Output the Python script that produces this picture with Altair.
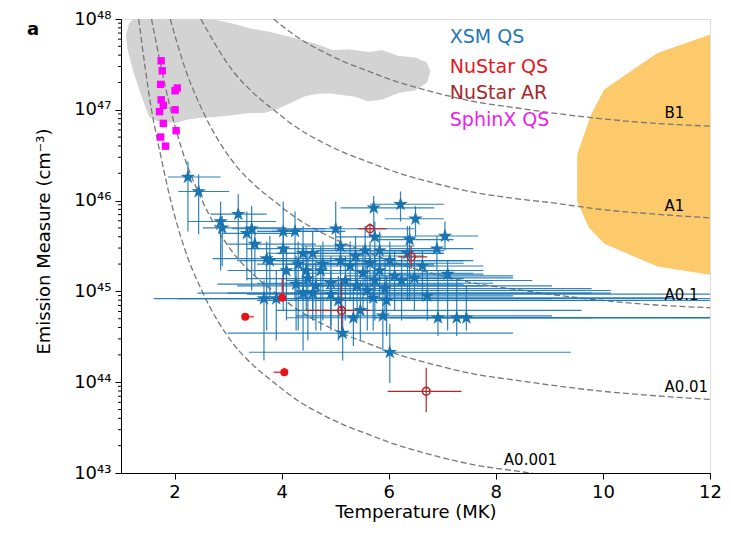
import altair as alt
import pandas as pd
import numpy as np

# ---------------- data ----------------
# XSM QS (stars): temperature (MK), log10 EM, error-bar extents
xsm_T = [2.25, 2.45, 2.86, 2.89, 3.19, 3.35, 3.44, 3.50, 3.72, 3.78,
         4.03, 4.25, 4.03, 4.09, 4.31, 4.40, 4.58, 4.49, 4.77, 4.73,
         5.01, 5.10, 3.67, 3.90, 4.40, 4.58, 4.92, 5.06, 5.14, 5.72,
         6.22, 6.50, 5.74, 6.39, 7.05, 6.90, 6.35, 7.10, 6.72, 6.92,
         7.27, 7.45, 6.02, 5.89, 5.34, 5.47, 5.56, 5.65, 5.52, 5.74,
         5.83, 5.41, 5.60, 5.93, 5.28, 5.38, 5.83, 6.02, 6.11, 6.24,
         6.48, 5.19, 4.92, 4.64, 4.27, 4.46, 5.71, 5.96, 5.10, 6.63]
xsm_logEM = [46.26, 46.10, 45.77, 45.70, 45.85, 45.64, 45.69, 45.52, 45.36, 45.34,
             45.66, 45.66, 45.47, 45.23, 45.30, 45.42, 45.42, 45.14, 45.30, 45.23,
             45.69, 45.34, 44.92, 44.92, 44.98, 44.98, 44.97, 44.90, 44.54, 45.92,
             45.96, 45.80, 45.60, 45.57, 45.61, 45.47, 45.42, 45.19, 44.95, 44.71,
             44.71, 44.71, 44.33, 44.73, 44.71, 44.79, 45.45, 45.31, 45.20, 45.12,
             45.23, 45.06, 45.01, 45.03, 45.28, 45.39, 45.45, 45.34, 45.17, 45.12,
             45.15, 45.12, 45.09, 45.06, 45.08, 45.23, 44.93, 44.90, 45.50, 45.28]
xsm_T_lo = [1.88, 2.07, 2.25, 2.53, 2.67, 2.89, 3.08, 2.99, 2.71, 3.17,
            3.54, 3.81, 3.35, 2.99, 3.54, 3.72, 3.90, 3.35, 4.09, 3.54,
            4.27, 3.90, 1.61, 2.07, 2.43, 2.99, 3.35, 3.54, 2.99, 5.10,
            5.65, 5.93, 5.01, 5.74, 6.48, 6.02, 5.74, 6.20, 5.93, 5.74,
            6.02, 6.29, 3.39, 4.27, 4.09, 3.90, 4.64, 4.82, 4.46, 4.64,
            5.01, 4.27, 4.27, 4.82, 4.46, 4.64, 5.10, 5.19, 5.19, 5.38,
            5.56, 4.09, 3.54, 3.17, 2.80, 3.54, 4.27, 4.64, 4.36, 5.74]
xsm_T_hi = [2.86, 3.02, 3.90, 4.09, 3.72, 4.27, 4.82, 4.64, 6.11, 5.74,
            4.82, 5.19, 5.38, 5.93, 6.48, 6.29, 7.03, 7.40, 6.85, 7.21,
            6.48, 7.58, 9.05, 12.0, 10.15, 9.79, 12.0, 10.7, 8.32, 6.85,
            7.03, 7.03, 6.48, 7.21, 7.67, 7.58, 7.03, 7.77, 8.32, 12.0,
            12.0, 12.0, 9.40, 9.05, 9.79, 9.60, 7.03, 7.40, 7.58, 7.95,
            7.77, 9.05, 10.15, 9.79, 6.85, 6.66, 6.85, 7.40, 8.32, 8.68,
            8.32, 7.58, 7.95, 7.77, 7.40, 7.03, 11.26, 12.0, 6.48, 7.77]
xsm_logEM_lo = [45.66, 45.63, 45.23, 45.28, 45.37, 45.12, 45.01, 45.17, 44.57, 44.90,
                45.01, 44.90, 44.79, 44.68, 44.57, 44.90, 44.79, 44.46, 44.68, 44.57,
                45.45, 44.79, 44.24, 44.46, 44.35, 44.68, 44.57, 44.46, 44.24, 45.72,
                45.77, 45.61, 45.01, 44.90, 45.45, 45.23, 44.90, 44.57, 44.68, 44.51,
                44.51, 44.57, 43.99, 44.35, 44.40, 44.46, 45.01, 44.90, 44.79, 44.68,
                44.90, 44.68, 44.57, 44.68, 44.90, 45.01, 45.12, 44.90, 44.79, 44.68,
                44.79, 44.68, 44.62, 44.57, 44.57, 44.79, 44.57, 44.51, 45.17, 44.90]
xsm_logEM_hi = [46.43, 46.29, 45.99, 45.83, 46.07, 45.88, 45.94, 45.72, 45.55, 45.61,
                45.99, 45.88, 45.66, 45.50, 45.55, 45.72, 45.66, 45.45, 45.55, 45.50,
                45.99, 45.61, 45.12, 45.23, 45.34, 45.28, 45.23, 45.17, 44.84, 46.05,
                46.10, 45.94, 45.77, 45.72, 45.77, 45.61, 45.72, 45.34, 45.23, 45.23,
                45.12, 45.06, 44.64, 45.01, 45.06, 45.12, 45.72, 45.55, 45.50, 45.39,
                45.50, 45.34, 45.28, 45.34, 45.55, 45.61, 45.66, 45.55, 45.45, 45.39,
                45.39, 45.39, 45.39, 45.34, 45.39, 45.50, 45.23, 45.17, 45.72, 45.45]

# NuStar QS (filled red circles)
nqs_T = [4.01, 3.32, 4.05]
nqs_logEM = [44.93, 44.72, 44.11]
nqs_T_lo = [3.98, 3.30, 3.85]
nqs_T_hi = [4.04, 3.48, 4.07]
nqs_logEM_lo = [44.90, 44.70, 44.09]
nqs_logEM_hi = [45.15, 44.75, 44.16]

# NuStar AR (open dark-red circles)
nar_T = [5.65, 6.42, 5.12, 6.70]
nar_logEM = [45.69, 45.38, 44.79, 43.90]
nar_T_lo = [5.43, 6.17, 4.45, 5.98]
nar_T_hi = [5.96, 6.72, 5.65, 7.36]
nar_logEM_lo = [45.60, 45.25, 44.54, 43.67]
nar_logEM_hi = [45.75, 45.50, 45.12, 44.16]

# SphinX QS (magenta squares)
sph_T = [1.75, 1.77, 1.74, 2.01, 2.05, 1.75, 1.79, 1.72, 2.01, 1.79, 2.03, 1.74, 1.83]
sph_logEM = [47.54, 47.43, 47.28, 47.21, 47.24, 47.11, 47.05, 46.98, 47.00, 46.85, 46.77, 46.70, 46.60]

# GOES-class curves (dashed)
curves = {
    "A0.001": ([1.33, 1.57, 1.74, 1.90, 2.20, 2.50, 3.10, 3.50, 3.85, 4.27, 4.77, 5.20, 5.60, 6.00, 6.80, 7.60, 8.40, 9.00],
               [48.0, 47.0, 46.5, 46.07, 45.45, 45.02, 44.42, 44.17, 44.0, 43.81, 43.64, 43.52, 43.43, 43.34, 43.2, 43.09, 43.02, 42.97]),
    "A0.01": ([1.57, 1.74, 1.90, 2.20, 2.50, 3.10, 3.50, 3.85, 4.27, 4.77, 5.20, 5.60, 6.00, 6.80, 7.60, 8.40, 9.00, 10.0, 11.0, 12.0],
              [48.0, 47.5, 47.07, 46.45, 46.02, 45.42, 45.17, 45.0, 44.81, 44.64, 44.52, 44.43, 44.34, 44.2, 44.09, 44.02, 43.97, 43.9, 43.85, 43.81]),
    "A0.1": ([1.92, 2.20, 2.50, 3.10, 3.50, 3.85, 4.27, 4.77, 5.20, 5.60, 6.00, 6.80, 7.60, 8.40, 9.00, 10.0, 11.0, 12.0],
             [48.0, 47.45, 47.02, 46.42, 46.17, 46.0, 45.81, 45.64, 45.52, 45.43, 45.34, 45.2, 45.09, 45.02, 44.97, 44.9, 44.85, 44.82]),
    "A1": ([2.49, 3.10, 3.50, 3.85, 4.27, 4.77, 5.20, 5.60, 6.00, 6.80, 7.60, 8.40, 9.00, 10.0, 11.0, 12.0],
           [48.0, 47.42, 47.17, 47.0, 46.81, 46.64, 46.52, 46.43, 46.34, 46.2, 46.09, 46.02, 45.98, 45.9, 45.85, 45.81]),
    "B1": ([3.85, 4.27, 4.77, 5.20, 5.60, 6.00, 6.80, 7.60, 8.40, 9.00, 10.0, 11.0, 12.0],
           [48.0, 47.81, 47.64, 47.52, 47.43, 47.34, 47.2, 47.09, 47.02, 46.97, 46.9, 46.85, 46.82]),
}
curve_label_names = ["B1", "A1", "A0.1", "A0.01", "A0.001"]
curve_label_T = [11.15, 11.15, 11.15, 11.15, 8.15]
curve_label_logEM = [46.97, 45.94, 44.96, 43.95, 43.14]

# grey region (outline)
grey_T = [1.35, 2.45, 2.49, 2.80, 3.11, 3.41, 3.78, 4.27, 4.64, 4.95, 5.25, 5.62, 5.87, 6.17,
          6.48, 6.69, 6.75, 6.69, 6.48, 6.17, 5.87, 5.62, 5.38, 5.13, 4.88, 4.64, 4.40,
          4.15, 3.90, 3.66, 3.41, 3.11, 2.80, 2.49, 2.25, 2.01, 1.70, 1.55, 1.45, 1.36,
          1.24, 1.15, 1.12, 1.18, 1.27]
grey_logEM = [48.06, 48.06, 47.99, 47.97, 47.93, 47.88, 47.84, 47.77, 47.71, 47.64, 47.65, 47.62,
              47.64, 47.58, 47.56, 47.51, 47.42, 47.31, 47.23, 47.20, 47.13, 47.11, 47.16,
              47.18, 47.20, 47.19, 47.16, 47.09, 47.02, 46.98, 46.98, 46.96, 46.94, 46.93,
              46.91, 46.87, 46.89, 46.93, 47.09, 47.24, 47.46, 47.67, 47.82, 47.95, 47.99]

# orange region (outline)
orange_T = [12.1, 11.99, 11.02, 10.03, 9.79, 9.53, 9.53, 9.75, 10.03, 11.02, 11.99, 12.1]
orange_logEM = [47.82, 47.82, 47.62, 47.22, 46.95, 46.51, 45.99, 45.70, 45.53, 45.28, 45.19, 45.19]

legend_names = ["XSM QS", "NuStar QS", "NuStar AR", "SphinX QS"]
legend_colors = ["#1f77b4", "#e8141c", "#a8262b", "#ee1cee"]
legend_T = [7.14, 7.14, 7.14, 7.14]
legend_logEM = [47.80, 47.47, 47.18, 46.89]

y_major = [1e43, 1e44, 1e45, 1e46, 1e47, 1e48]
y_minor = [m * 10.0 ** e for e in range(43, 48) for m in range(2, 10)]
x_ticks = [2, 4, 6, 8, 10, 12]

# ---------------- build tables ----------------
def em(v):
    return [10.0 ** x for x in v]

xsm = pd.DataFrame({"T": xsm_T, "EM": em(xsm_logEM), "Tlo": xsm_T_lo, "Thi": xsm_T_hi,
                    "EMlo": em(xsm_logEM_lo), "EMhi": em(xsm_logEM_hi)})
nqs = pd.DataFrame({"T": nqs_T, "EM": em(nqs_logEM), "Tlo": nqs_T_lo, "Thi": nqs_T_hi,
                    "EMlo": em(nqs_logEM_lo), "EMhi": em(nqs_logEM_hi)})
nar = pd.DataFrame({"T": nar_T, "EM": em(nar_logEM), "Tlo": nar_T_lo, "Thi": nar_T_hi,
                    "EMlo": em(nar_logEM_lo), "EMhi": em(nar_logEM_hi)})
sph = pd.DataFrame({"T": sph_T, "EM": em(sph_logEM)})
crv = pd.concat([pd.DataFrame({"name": k, "T": v[0], "EM": em(v[1])}) for k, v in curves.items()])
clab = pd.DataFrame({"name": curve_label_names, "T": curve_label_T, "EM": em(curve_label_logEM)})
grey = pd.DataFrame({"i": range(len(grey_T)), "T": grey_T, "EM": em(grey_logEM)})
orng = pd.DataFrame({"i": range(len(orange_T)), "T": orange_T, "EM": em(orange_logEM)})
leg = pd.DataFrame({"name": legend_names, "color": legend_colors, "T": legend_T, "EM": em(legend_logEM)})
minor = pd.DataFrame({"v": y_minor})

FONT = "DejaVu Sans"
xs = alt.Scale(domain=[1, 12], nice=False, zero=False)
ys = alt.Scale(type="log", domain=[1e43, 1e48], nice=False)

sup = {43: "⁴³", 44: "⁴⁴", 45: "⁴⁵", 46: "⁴⁶", 47: "⁴⁷", 48: "⁴⁸"}
expr = "''"
for e in range(43, 49):
    expr = f"round(log(datum.value)/LN10) == {e} ? '10{sup[e]}' : ({expr})"

xaxis = alt.Axis(values=x_ticks, format="d", grid=False, tickSize=6, labelFontSize=18,
                 labelFlush=False, labelColor="black", tickColor="black", domainColor="black",
                 titleFontSize=18, titleFontWeight="normal", titleColor="black", labelPadding=4,
                 titlePadding=2, labelFont=FONT, titleFont=FONT)
yaxis = alt.Axis(values=y_major, labelExpr=expr, grid=False, tickSize=6, labelFontSize=18,
                 labelColor="black", tickColor="black", domainColor="black",
                 titleFontSize=18, titleFontWeight="normal", titleColor="black", labelPadding=4,
                 titleX=-77, titleY=222, titleAngle=-90, titleAlign="center", titleBaseline="middle",
                 labelFont=FONT, titleFont=FONT)

XT = "Temperature (MK)"
YT = "Emission Measure (cm⁻³)"


def X(f="T"):
    return alt.X(f"{f}:Q", scale=xs, axis=xaxis, title=XT)


def Y(f="EM"):
    return alt.Y(f"{f}:Q", scale=ys, axis=yaxis, title=YT)


orange_layer = alt.Chart(orng).mark_line(interpolate="linear-closed", fill="#fcc96b",
                                         stroke="#fcc96b", strokeWidth=1, clip=True).encode(
    x=X(), y=Y(), order="i:Q")
grey_layer = alt.Chart(grey).mark_line(interpolate="linear-closed", fill="#d3d3d3",
                                       stroke="#d3d3d3", strokeWidth=3, strokeJoin="round",
                                       clip=True).encode(
    x=X(), y=Y(), order="i:Q")
curve_layer = alt.Chart(crv).mark_line(color="#777777", strokeWidth=1.3, strokeDash=[6, 3],
                                       interpolate="monotone", clip=True).encode(
    x=X(), y=Y(), detail="name:N")
curve_text = alt.Chart(clab).mark_text(align="left", baseline="middle", fontSize=15,
                                       font=FONT, color="black").encode(
    x=X(), y=Y(), text="name:N")

BLUE = "#1a74b2"
xsm_h = alt.Chart(xsm).mark_rule(color=BLUE, strokeWidth=1.2, opacity=0.9, clip=True).encode(
    x=X("Tlo"), x2="Thi:Q", y=Y())
xsm_v = alt.Chart(xsm).mark_rule(color=BLUE, strokeWidth=1.2, opacity=0.9, clip=True).encode(
    x=X(), y=Y("EMlo"), y2="EMhi:Q")
STAR = "M0,-1L0.2245,-0.309L0.951,-0.309L0.363,0.118L0.588,0.809L0,0.382L-0.588,0.809L-0.363,0.118L-0.951,-0.309L-0.2245,-0.309Z"
xsm_pts = alt.Chart(xsm).mark_point(shape=STAR, filled=True, size=230, color=BLUE,
                                    opacity=1).encode(x=X(), y=Y())

RED = "#e8141c"
nqs_h = alt.Chart(nqs).mark_rule(color=RED, strokeWidth=1.2).encode(x=X("Tlo"), x2="Thi:Q", y=Y())
nqs_v = alt.Chart(nqs).mark_rule(color=RED, strokeWidth=1.2).encode(x=X(), y=Y("EMlo"), y2="EMhi:Q")
nqs_pts = alt.Chart(nqs).mark_circle(color=RED, size=65, opacity=1).encode(x=X(), y=Y())

DRED = "#b0282e"
nar_h = alt.Chart(nar).mark_rule(color=DRED, strokeWidth=1.2).encode(x=X("Tlo"), x2="Thi:Q", y=Y())
nar_v = alt.Chart(nar).mark_rule(color=DRED, strokeWidth=1.2).encode(x=X(), y=Y("EMlo"), y2="EMhi:Q")
nar_pts = alt.Chart(nar).mark_point(color=DRED, size=60, strokeWidth=1.6, filled=False,
                                    opacity=1).encode(x=X(), y=Y())

sph_pts = alt.Chart(sph).mark_square(color="#ff00ff", size=55, opacity=1).encode(x=X(), y=Y())

legend_text = alt.Chart(leg).mark_text(align="left", baseline="middle", fontSize=19,
                                       font=FONT).encode(
    x=X(), y=Y(), text="name:N", color=alt.Color("color:N", scale=None))

minor_ticks = alt.Chart(minor).mark_rule(color="black", strokeWidth=1).encode(
    y=alt.Y("v:Q", scale=ys, axis=yaxis, title=YT), x=alt.value(-3), x2=alt.value(0))

panel = alt.Chart(pd.DataFrame({"t": ["a"]})).mark_text(
    align="left", baseline="alphabetic", fontSize=18, fontWeight="bold", font=FONT,
    color="black").encode(text="t:N", x=alt.value(-94), y=alt.value(16))

chart = alt.layer(
    orange_layer, grey_layer, curve_layer,
    xsm_h, xsm_v, nar_h, nar_v, nqs_h, nqs_v,
    xsm_pts, nqs_pts, nar_pts, sph_pts,
    curve_text, legend_text, minor_ticks, panel
).properties(
    width=589, height=454,
    autosize=alt.AutoSizeParams(type="none"),
    padding={"left": 113, "top": 11, "right": 12, "bottom": 51},
    background="white",
).configure_view(stroke="black", strokeWidth=1).configure(font=FONT)

chart.save("out.html", embed_options={"renderer": "svg", "actions": False})
